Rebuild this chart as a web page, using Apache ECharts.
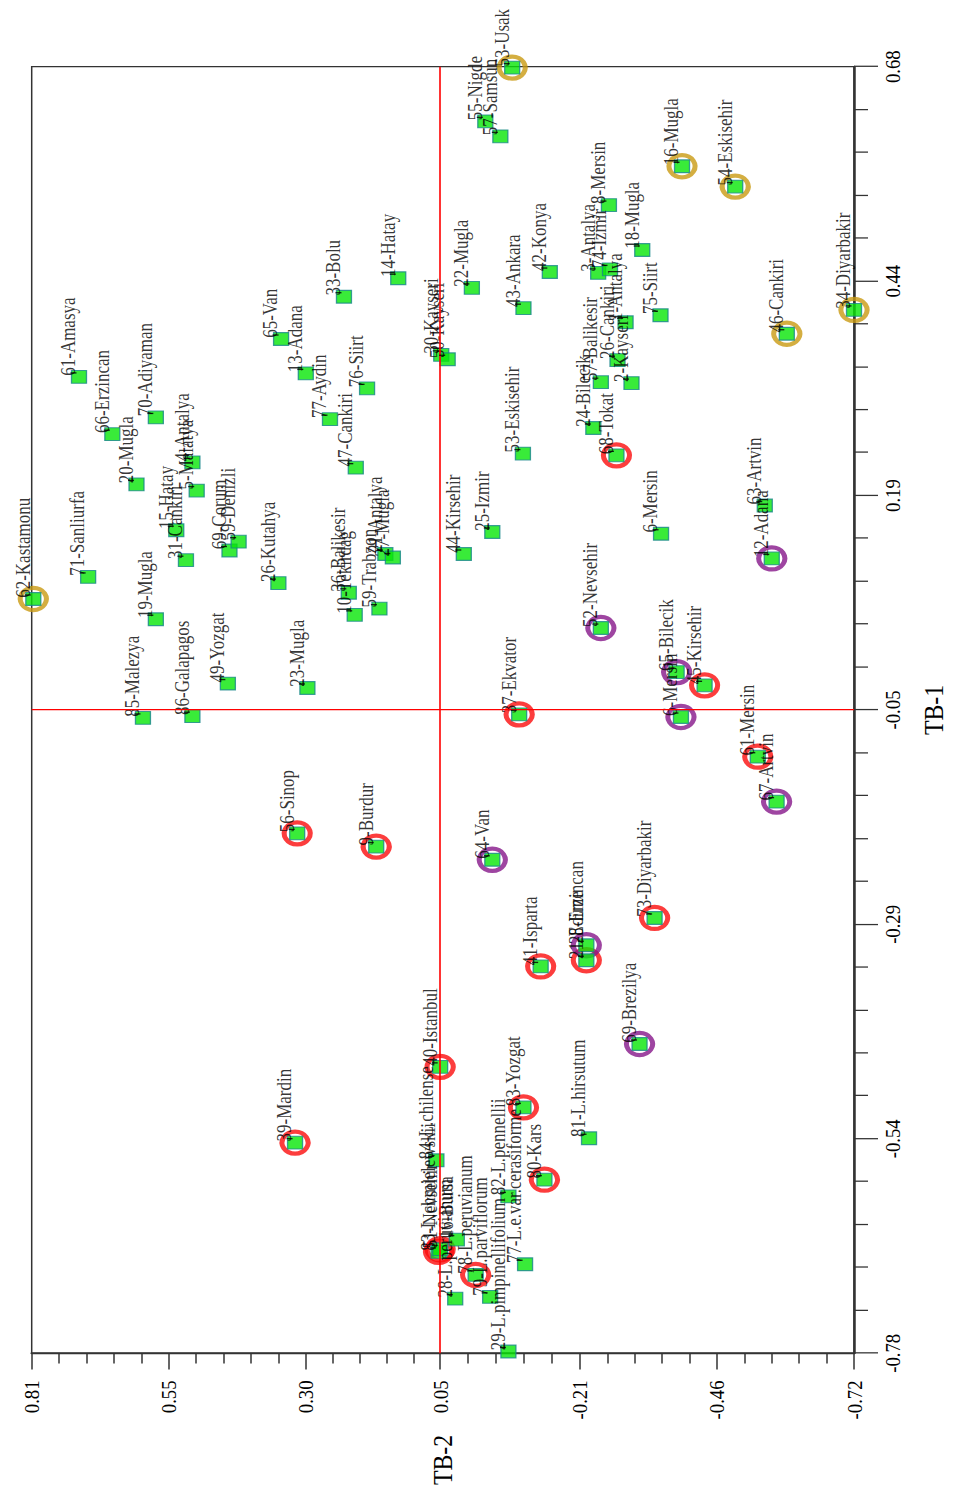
<!DOCTYPE html>
<html>
<head>
<meta charset="utf-8">
<script src="https://cdn.jsdelivr.net/npm/echarts@6/dist/echarts.min.js"></script>
<style>
  html, body { margin: 0; padding: 0; background: #fff; overflow: hidden; width: 953px; height: 1499px; }
  /* The plot is laid out landscape (TB-1 across, TB-2 up) and turned a quarter turn
     counter-clockwise onto the portrait page; the slight horizontal squeeze gives the
     narrow type of the printed figure. */
  #chart {
    position: absolute; left: 0; top: 0;
    width: 1764px; height: 953px;
    transform-origin: 0 0;
    transform: translate(0, 1499px) rotate(-90deg) scale(0.84977, 1);
  }
</style>
</head>
<body>
<div id="chart"></div>
<script>
// Accession labels
const names = [
  '61-Amasya', '66-Erzincan', '70-Adiyaman', '4-Antalya', '65-Van', '13-Adana',
  '53-Usak', '55-Nigde', '57-Samsun', '14-Hatay', '33-Bolu', '22-Mugla',
  '42-Konya', '43-Ankara', '30-Kayseri', '50-Kayseri', '76-Siirt', '77-Aydin',
  '47-Cankiri', '53-Eskisehir', '24-Bilecik', '16-Mugla', '54-Eskisehir', '8-Mersin',
  '18-Mugla', '3-Antalya', '74-Izmir', '75-Siirt', '1-Antalya', '57-Balikesir',
  '26-Cankiri', '2-Kayseri', '68-Tokat', '46-Cankiri', '34-Diyarbakir', '62-Kastamonu',
  '71-Sanliurfa', '19-Mugla', '85-Malezya', '86-Galapagos', '49-Yozgat', '20-Mugla',
  '5-Malatya', '15-Hatay', '31-Cankiri', '69-Corum', '59-Denizli', '26-Kutahya',
  '23-Mugla', '56-Sinop', '44-Kirsehir', '25-Izmir', '36-Balikesir', '10-Tekirdag',
  '59-Trabzon', '21-Antalya', '27-Mugla', '37-Ekvator', '9-Burdur', '64-Van',
  '6-Mersin', '63-Artvin', '12-Adana', '52-Nevsehir', '65-Bilecik', '45-Kirsehir',
  '6-Mersin', '61-Mersin', '67-Artvin', '73-Diyarbakir', '39-Mardin', '41-Isparta',
  '40-Istanbul', '84-L.chilense', '83-Yozgat', '82-L.pennellii', '80-Kars', '81-L.hirsutum',
  '83-L.chmielewskii', '16-Bursa', '78-L.peruvianum', '28-L.peruvianum', '79-L.parviflorum', '77-L.e.var.cerasiforme',
  '29-L.pimpinellifolium', '28-Erzincan', '21-Edirne', '69-Brezilya', '51-Nevsehir'
];

// First axis scores (TB-1)
const tb1 = [
  0.328, 0.263, 0.282, 0.231, 0.371, 0.332,
  0.679, 0.618, 0.601, 0.440, 0.419, 0.429,
  0.447, 0.406, 0.353, 0.348, 0.315, 0.280,
  0.225, 0.241, 0.270, 0.567, 0.544, 0.523,
  0.472, 0.446, 0.450, 0.398, 0.390, 0.322,
  0.347, 0.321, 0.239, 0.377, 0.404, 0.076,
  0.101, 0.053, -0.059, -0.057, -0.020, 0.206,
  0.199, 0.154, 0.120, 0.131, 0.141, 0.094,
  -0.025, -0.190, 0.127, 0.152, 0.083, 0.058,
  0.065, 0.127, 0.123, -0.055, -0.205, -0.220,
  0.150, 0.182, 0.122, 0.043, -0.007, -0.022,
  -0.058, -0.103, -0.154, -0.286, -0.541, -0.341,
  -0.455, -0.561, -0.501, -0.602, -0.583, -0.536,
  -0.665, -0.651, -0.691, -0.718, -0.716, -0.679,
  -0.778, -0.317, -0.334, -0.429, -0.662
];

// Second axis scores (TB-2)
const tb2 = [
  0.722, 0.660, 0.579, 0.511, 0.346, 0.300,
  -0.084, -0.034, -0.062, 0.128, 0.229, -0.009,
  -0.154, -0.105, 0.048, 0.036, 0.186, 0.255,
  0.207, -0.104, -0.235, -0.400, -0.499, -0.264,
  -0.326, -0.244, -0.266, -0.360, -0.295, -0.249,
  -0.280, -0.306, -0.278, -0.595, -0.720, 0.807,
  0.705, 0.579, 0.603, 0.511, 0.445, 0.615,
  0.503, 0.541, 0.523, 0.442, 0.425, 0.351,
  0.297, 0.316, 0.006, -0.047, 0.220, 0.209,
  0.163, 0.152, 0.138, -0.097, 0.169, -0.047,
  -0.361, -0.554, -0.567, -0.249, -0.390, -0.442,
  -0.398, -0.541, -0.576, -0.349, 0.320, -0.137,
  0.050, 0.057, -0.105, -0.077, -0.144, -0.227,
  0.053, 0.019, -0.016, 0.022, -0.043, -0.108,
  -0.077, -0.222, -0.222, -0.321, 0.050
];

// Highlight ring per accession: '' none, 'r' red, 'p' purple, 'o' gold
const ring = [
  '', '', '', '', '', '',
  'o', '', '', '', '', '',
  '', '', '', '', '', '',
  '', '', '', 'o', 'o', '',
  '', '', '', '', '', '',
  '', '', 'r', 'o', 'o', 'o',
  '', '', '', '', '', '',
  '', '', '', '', '', '',
  '', 'r', '', '', '', '',
  '', '', '', 'r', 'r', 'p',
  '', '', 'p', 'p', 'p', 'r',
  'p', 'r', 'p', 'r', 'r', 'r',
  'r', '', 'r', '', 'r', '',
  'r', '', 'r', '', '', '',
  '', 'p', 'r', 'p', 'r'
];

// Axis ticks and their printed labels
const tb1Ticks = [-0.78, -0.53667, -0.29333, -0.05, 0.19333, 0.43667, 0.68];
const tb1TickLabels = ['-0.78', '-0.54', '-0.29', '-0.05', '0.19', '0.44', '0.68'];
const tb2Ticks = [-0.72, -0.465, -0.21, 0.05, 0.30, 0.555, 0.81];
const tb2TickLabels = ['-0.72', '-0.46', '-0.21', '0.05', '0.30', '0.55', '0.81'];

// Reference cross (red lines)
const crossTB1 = -0.05;
const crossTB2 = 0.05;

const FONT = "'Liberation Serif', 'Times New Roman', serif";

function tickLabel(v, ticks, labels) {
  let best = 0;
  for (let i = 1; i < ticks.length; i++) {
    if (Math.abs(ticks[i] - v) < Math.abs(ticks[best] - v)) best = i;
  }
  return labels[best];
}

function minorValues(ticks) {
  const s = ticks.slice().sort((a, b) => a - b);
  const out = [];
  for (let i = 0; i < s.length - 1; i++) {
    for (let k = 1; k < 5; k++) out.push(s[i] + (s[i + 1] - s[i]) * k / 5);
  }
  return out;
}

const points = names.map((n, i) => ({ name: n, value: [tb1[i], tb2[i]] }));

const ringColors = { r: '#fb0d0d', p: '#86168a', o: '#c99a12' };
const ringSeries = Object.keys(ringColors).map(k => ({
  type: 'scatter',
  xAxisIndex: 0, yAxisIndex: 0,
  data: points.filter((p, i) => ring[i] === k),
  symbol: 'circle',
  symbolSize: 26,
  itemStyle: { color: 'rgba(0,0,0,0)', borderColor: ringColors[k], borderWidth: 5 },
  silent: true,
  z: 3
}));

const chart = echarts.init(document.getElementById('chart'), null, { renderer: 'svg' });

const axisText = { color: '#000', fontFamily: FONT };

chart.setOption({
  animation: false,
  backgroundColor: '#fff',
  grid: {
    left: 171.5, right: 78.5, top: 31.7, bottom: 96.3,
    show: true, borderColor: '#333', borderWidth: 1.5, backgroundColor: 'rgba(0,0,0,0)'
  },
  xAxis: [
    {
      type: 'value', min: -0.78, max: 0.68, position: 'bottom',
      name: 'TB-1', nameLocation: 'middle', nameGap: 66,
      nameTextStyle: Object.assign({ fontSize: 28 }, axisText),
      axisLine: { show: true, onZero: false, lineStyle: { color: '#333', width: 2.5 } },
      axisTick: { show: true, length: 24, customValues: tb1Ticks, lineStyle: { color: '#333', width: 1.5 } },
      axisLabel: {
        show: true, margin: 27, fontSize: 22, customValues: tb1Ticks,
        color: '#000', fontFamily: FONT,
        formatter: v => tickLabel(v, tb1Ticks, tb1TickLabels)
      },
      splitLine: { show: false }
    },
    {
      type: 'value', min: -0.78, max: 0.68, position: 'bottom',
      axisLine: { show: false, onZero: false },
      axisTick: { show: true, length: 14, customValues: minorValues(tb1Ticks), lineStyle: { color: '#333', width: 1.5 } },
      axisLabel: { show: false },
      splitLine: { show: false }
    }
  ],
  yAxis: [
    {
      type: 'value', min: -0.72, max: 0.81, position: 'left',
      name: 'TB-2', nameLocation: 'middle', nameGap: 96, nameRotate: 0,
      nameTextStyle: Object.assign({ fontSize: 28 }, axisText),
      axisLine: { show: true, onZero: false, lineStyle: { color: '#333', width: 2.5 } },
      axisTick: { show: true, length: 19, customValues: tb2Ticks, lineStyle: { color: '#333', width: 1.5 } },
      axisLabel: {
        show: true, margin: 32, fontSize: 22, customValues: tb2Ticks,
        color: '#000', fontFamily: FONT,
        formatter: v => tickLabel(v, tb2Ticks, tb2TickLabels)
      },
      splitLine: { show: false }
    },
    {
      type: 'value', min: -0.72, max: 0.81, position: 'left',
      axisLine: { show: false, onZero: false },
      axisTick: { show: true, length: 12, customValues: minorValues(tb2Ticks), lineStyle: { color: '#333', width: 1.5 } },
      axisLabel: { show: false },
      splitLine: { show: false }
    }
  ],
  series: ringSeries.concat([
    {
      type: 'scatter',
      xAxisIndex: 0, yAxisIndex: 0,
      data: points,
      symbol: 'rect',
      symbolSize: 15,
      itemStyle: { color: '#08e608', borderColor: '#17868a', borderWidth: 1.3 },
      label: {
        show: true,
        formatter: p => p.name,
        position: [9.5, -2.5],
        align: 'left',
        verticalAlign: 'middle',
        fontSize: 20,
        color: '#000',
        fontFamily: FONT
      },
      markLine: {
        silent: true,
        symbol: 'none',
        label: { show: false },
        lineStyle: { color: '#ff0000', width: 1.6, type: 'solid' },
        data: [{ xAxis: crossTB1 }, { yAxis: crossTB2 }]
      },
      z: 4
    },
    {
      // short leader stroke at the corner of each marker, pointing to its label
      type: 'scatter',
      xAxisIndex: 0, yAxisIndex: 0,
      data: points,
      symbol: 'rect',
      symbolSize: [1.6, 6],
      symbolOffset: [4.7, -5.5],
      itemStyle: { color: '#000' },
      silent: true,
      z: 5
    }
  ])
});
</script>
</body>
</html>
